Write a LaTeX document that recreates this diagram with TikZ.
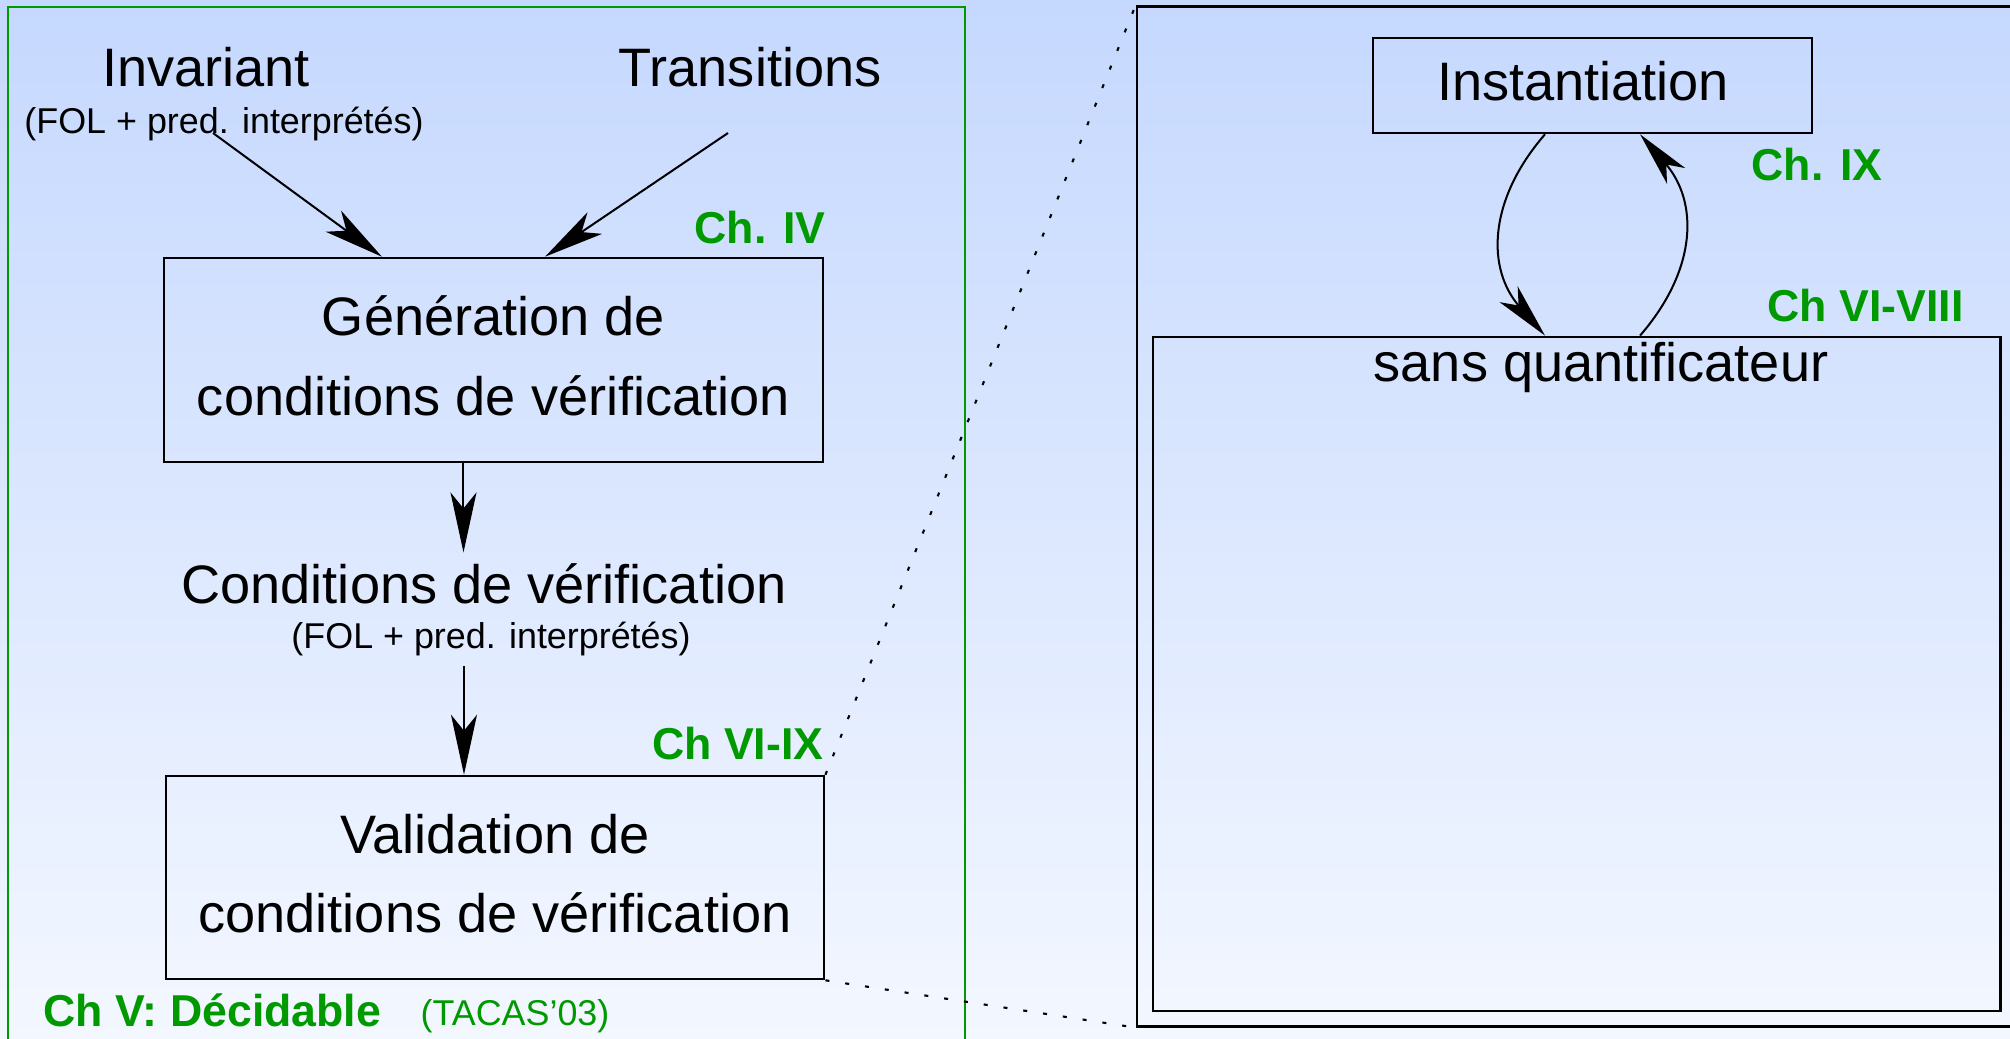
\documentclass[tikz,border=0pt]{standalone}
\usepackage{fontspec}
\setmainfont{Liberation Sans}
\usetikzlibrary{arrows.meta,positioning}

\definecolor{chapgreen}{RGB}{0,153,0}
\definecolor{bgtop}{RGB}{197,216,254}
\definecolor{bgbot}{RGB}{243,247,255}

\tikzset{
  txt/.style={inner sep=0.1cm, font=\fontsize{15.4}{22.5}\selectfont},
  small/.style={inner sep=0.1cm, font=\fontsize{10.2}{12}\selectfont},
  chap/.style={inner sep=0pt, text=chapgreen, font=\fontsize{12.7}{15}\selectfont\bfseries},
  box/.style={draw, line width=0.7pt, align=center, txt},
  flow/.style={line width=0.57pt, -{Stealth[length=0.6cm,width=0.26cm,inset=0.16cm]}},
  flowbent/.style={line width=0.57pt, -{Stealth[length=0.55cm,width=0.24cm,inset=0.15cm]}},
  zoomline/.style={line width=0.6pt, dash pattern=on 0.04cm off 0.16cm},
}

\begin{document}
\begin{tikzpicture}[x=0.01cm, y=-0.01cm]
    % --- fond ---
    \clip (0,0) rectangle (2010,1038);
    \shade[top color=bgtop, bottom color=bgbot] (0,0) rectangle (2010,1038);
    % cadre vert
    \draw[chapgreen, line width=0.6pt] (8,1060) -- (8,7) -- (965,7) -- (965,1060);

    % --- chaine de verification ---
    \node[txt, anchor=base] (inv) at (206,86) {Invariant};
    \node[small, anchor=base] (invsub) at (224,133) {(FOL + pred. interprétés)};
    \node[txt, anchor=base] (trans) at (750,86) {Transitions};
    \node[box, text depth=0.09cm, minimum width=6.59cm, minimum height=2.04cm] (gen) at (493.5,360)
        {Génération de\\conditions de vérification};
    \node[chap, anchor=base east] (chiv) at (826,243) {Ch. IV};
    \node[txt, anchor=base] (cond) at (484,603) {Conditions de vérification};
    \node[small, anchor=base] (condsub) at (491,648) {(FOL + pred. interprétés)};
    \node[box, text depth=0.09cm, minimum width=6.58cm, minimum height=2.03cm] (val) at (495,877.5)
        {Validation de\\conditions de vérification};
    \node[chap, anchor=base east] (chvix) at (824,759) {Ch VI-IX};
    \node[chap, anchor=base west] (chv) at (43,1026) {Ch V: Décidable};
    \node[small, inner sep=0pt, text=chapgreen, anchor=base west] (tacas) at (420,1025) {(TACAS'03)};

    % fleches
    \coordinate (invfoot) at (213,133);
    \coordinate (transfoot) at (728,133);
    \draw[flow] (invfoot) -- ([xshift=-1.115cm]gen.north);
    \draw[flow] (transfoot) -- ([xshift=0.515cm]gen.north);
    \draw[flow] ([xshift=-0.3cm]gen.south) -- ([xshift=-0.3cm]gen.south |- cond.north);
    \draw[flow] ([xshift=-0.31cm]val.north |- condsub.south) -- ([xshift=-0.31cm]val.north);

    % --- zoom sur la validation ---
    \node[draw, line width=0.7pt, minimum width=9.03cm, minimum height=10.19cm] (zoomf) at (1588.5,516.5) {};
    \node[box, minimum width=8.47cm, minimum height=6.74cm] (sans) at (1576.5,674) {};
    \node[txt, anchor=base] (sanstxt) at ([xshift=0.245cm,yshift=-0.46cm]sans.north) {sans quantificateur};
    \node[box, minimum width=4.39cm, minimum height=0.95cm] (inst) at (1592.5,85.5) {};
    \node[txt, anchor=base] (insttxt) at ([xshift=-0.095cm,yshift=-0.64cm]inst.north) {Instantiation};
    \node[chap, anchor=base west] (chix) at (1751,180) {Ch. IX};
    \node[chap, anchor=base west] (chvi) at (1767,321) {Ch VI-VIII};

    % boucle instantiation / sans quantificateur
    \draw[flowbent] ([xshift=-0.475cm]inst.south) .. controls +(-58,67) and +(-58,-66) .. ([xshift=-0.315cm]sans.north);
    \draw[flowbent] ([xshift=0.635cm]sans.north) .. controls +(58,-67) and +(58,67) .. ([xshift=0.475cm]inst.south);

    % lignes pointillees
    \draw[zoomline] (val.north east) -- (zoomf.north west);
    \draw[zoomline] (val.south east) -- (zoomf.south west);

\end{tikzpicture}
\end{document}
